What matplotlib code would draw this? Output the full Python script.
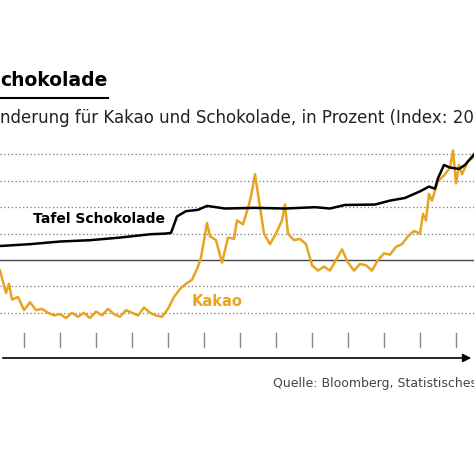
import matplotlib.pyplot as plt

choc_m = [0,10,20,30,40,50,55,57,59,62,66,69,75,85,95,105,110,115,125,130,135,140,143,145,146,148,150,153,155,158]
choc_v = [110.6,112,114,115,117,119.5,120,120.5,133,137,138,141,139,139.5,139,140,139,141.7,142,145,147,152,155.6,154,162,172,170,169,172,180]
kakao_m = [0,2,3,4,6,8,10,12,14,16,18,20,22,24,26,28,30,32,34,36,38,40,42,44,46,48,50,52,54,56,58,60,62,64,66,67,69,70,72,74,76,78,79,81,83,84,85,86,88,90,92,94,95,96,98,100,102,104,106,108,110,112,114,116,118,120,122,124,126,128,130,132,134,136,138,140,141,142,143,144,146,148,150,151,152,153,154,155,156,158]
kakao_v = [92,75,82,70,72,62,68,62,63,60,58,59,56,60,57,60,56,61,58,63,59,57,62,60,58,64,60,58,57,63,72,78,82,85,95,102,128,118,115,98,117,116,130,127,142,152,165,150,120,112,120,130,142,120,115,116,112,96,92,95,92,100,108,98,92,97,96,92,100,105,104,110,112,118,122,120,135,130,150,145,160,164,170,183,158,172,165,170,175,178]
grid_vals = [60,80,120,140,160,180]
tick_m = [8,20,32,44,56,68,80,92,104,116,128,140,152]

def Y(py):  # pixel row -> data value (layout helper)
    return 100 + (260 - py) * 20 / 26.4

fig = plt.figure(figsize=(4.74, 4.63), dpi=100)
ax = fig.add_axes([0, 0, 1, 1])
ax.set_xlim(0, 158)
ax.set_ylim(Y(463), Y(0))
ax.axis('off')
for g in grid_vals:
    ax.axhline(g, color='#777777', lw=0.9, ls=(0, (1, 2)))
ax.axhline(100, color='#444444', lw=1.0)
for t in tick_m:
    ax.plot([t, t], [Y(333), Y(347)], color='#888888', lw=1)
ax.annotate('', xy=(158, Y(358)), xytext=(0, Y(358)),
            arrowprops=dict(arrowstyle='-|>', color='black', lw=1.2, mutation_scale=12))
ax.plot(kakao_m, kakao_v, color='#e8a420', lw=1.8)
ax.plot(choc_m, choc_v, color='black', lw=1.8)
ax.text(11, Y(219), 'Tafel Schokolade', fontsize=10, fontweight='bold', va='center')
ax.text(64, Y(301), 'Kakao', fontsize=10.5, fontweight='bold', color='#e8a420', va='center')
ax.text(0, Y(80), 'chokolade', fontsize=13.5, fontweight='bold', va='center')
ax.plot([0, 36], [Y(98), Y(98)], color='black', lw=1.5)
ax.text(0, Y(118), 'nderung für Kakao und Schokolade, in Prozent (Index: 20', fontsize=12, va='center', color='#222222', clip_on=True)
ax.text(91, Y(384), 'Quelle: Bloomberg, Statistisches', fontsize=9, va='center', color='#444444', clip_on=True)
fig.savefig('out.png', dpi=100)
